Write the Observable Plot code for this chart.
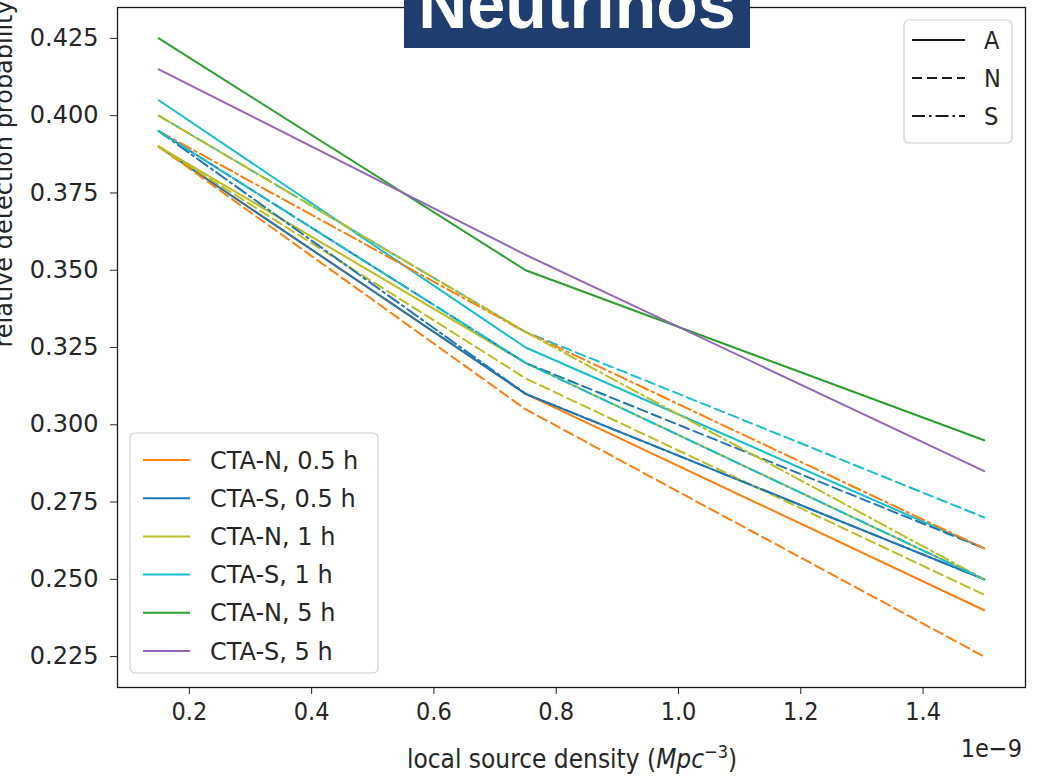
<!DOCTYPE html>
<html><head><meta charset="utf-8">
<script src="https://cdn.jsdelivr.net/npm/d3@7"></script>
<script src="https://cdn.jsdelivr.net/npm/@observablehq/plot@0.6"></script>
<style>
body{margin:0;background:#fff;}
#wrap{position:relative;width:1037px;height:779px;overflow:hidden;}
</style></head><body><div id="wrap"></div>
<script>
// x positions (units of 1e-9 Mpc^-3)
const xs = [0.15, 0.75, 1.5];
const xTicks = [0.2, 0.4, 0.6, 0.8, 1.0, 1.2, 1.4];
const yTicks = [0.225, 0.25, 0.275, 0.3, 0.325, 0.35, 0.375, 0.4, 0.425];
const configs = ["CTA-N, 0.5 h", "CTA-S, 0.5 h", "CTA-N, 1 h", "CTA-S, 1 h", "CTA-N, 5 h", "CTA-S, 5 h"];
const colors = ["#ff7f0e", "#1f77b4", "#bcbd22", "#17becf", "#2ca02c", "#9467bd"];
const styles = ["A", "N", "S"];
const dashes = {A: null, N: "10,5", S: "13,4,2.5,4"};

// series values at xs
const n05_A = [0.390, 0.310, 0.240];
const n05_N = [0.390, 0.305, 0.225];
const n05_S = [0.395, 0.330, 0.260];
const s05_A = [0.390, 0.310, 0.250];
const s05_N = [0.395, 0.320, 0.260];
const s05_S = [0.395, 0.310, 0.250];
const n1_A = [0.390, 0.320, 0.250];
const n1_N = [0.390, 0.315, 0.245];
const n1_S = [0.400, 0.330, 0.250];
const s1_A = [0.405, 0.325, 0.260];
const s1_N = [0.400, 0.330, 0.270];
const s1_S = [0.395, 0.320, 0.250];
const n5_A = [0.425, 0.350, 0.295];
const s5_A = [0.415, 0.355, 0.285];

const series = [
  [configs[0], "A", n05_A], [configs[0], "N", n05_N], [configs[0], "S", n05_S],
  [configs[1], "A", s05_A], [configs[1], "N", s05_N], [configs[1], "S", s05_S],
  [configs[2], "A", n1_A], [configs[2], "N", n1_N], [configs[2], "S", n1_S],
  [configs[3], "A", s1_A], [configs[3], "N", s1_N], [configs[3], "S", s1_S],
  [configs[4], "A", n5_A],
  [configs[5], "A", s5_A]
];
const data = [];
series.forEach(([config, style, vals], i) => {
  vals.forEach((v, j) => data.push({x: xs[j], y: v, config, style, key: i}));
});

const font = "DejaVu Sans, sans-serif";
const fontC = "DejaVu Sans Condensed, DejaVu Sans, sans-serif";

const lineMarks = styles.map(s => Plot.line(data.filter(d => d.style === s), {
  x: "x", y: "y", z: "key", stroke: "config", strokeWidth: 2,
  strokeDasharray: dashes[s] || undefined
}));

const chart = Plot.plot({
  width: 1037, height: 779,
  marginLeft: 117, marginRight: 12, marginTop: 7, marginBottom: 92,
  style: {fontFamily: font, fontSize: "24px", color: "#262626", background: "white"},
  x: {domain: [0.0825, 1.5675]},
  y: {domain: [0.215, 0.435]},
  color: {domain: configs, range: colors},
  marks: [
    ...lineMarks,
    Plot.axisX({ticks: xTicks, tickFormat: d => d.toFixed(1), tickSize: 7, tickPadding: 8, label: null, fontSize: 25, fontFamily: fontC}),
    Plot.axisY({ticks: yTicks, tickFormat: d => d.toFixed(3), tickSize: 7, tickPadding: 12, label: null, fontSize: 24}),
    Plot.frame({stroke: "#1a1a1a", strokeWidth: 1.3}),
    Plot.text(["relative detection probability"], {frameAnchor: "left", rotate: -90, dx: -113, fontSize: 24, fill: "#262626"})
  ]
});
document.getElementById("wrap").appendChild(chart);

const svg = d3.select(chart);
// x label
const xl = svg.append("text").attr("x", 572).attr("y", 768).attr("text-anchor", "middle")
  .attr("font-family", fontC).attr("font-size", 26).attr("fill", "#262626");
xl.append("tspan").text("local source density (");
xl.append("tspan").attr("font-style", "italic").text("Mpc");
xl.append("tspan").attr("font-size", 18).attr("dy", -10).text("−3");
xl.append("tspan").attr("dy", 10).text(")");
// offset text
svg.append("text").attr("x", 1022).attr("y", 757).attr("text-anchor", "end")
  .attr("font-family", fontC).attr("font-size", 25).attr("fill", "#262626").text("1e−9");

// legend for configurations (bottom-left)
const lg = svg.append("g").attr("text-anchor", "start");
lg.append("rect").attr("x", 130).attr("y", 433).attr("width", 248).attr("height", 240).attr("rx", 5)
  .attr("fill", "white").attr("fill-opacity", 0.85).attr("stroke", "#d0d0d0").attr("stroke-width", 1.2);
configs.forEach((c, i) => {
  const y = 460 + i * 38.2;
  lg.append("line").attr("x1", 143).attr("x2", 190).attr("y1", y).attr("y2", y)
    .attr("stroke", colors[i]).attr("stroke-width", 2);
  lg.append("text").attr("x", 210).attr("y", y).attr("dy", "0.36em").attr("text-anchor", "start")
    .attr("font-family", font).attr("font-size", 24).attr("fill", "#262626").text(c);
});

// legend for styles (top-right)
const lg2 = svg.append("g").attr("text-anchor", "start");
lg2.append("rect").attr("x", 904).attr("y", 20).attr("width", 108).attr("height", 123).attr("rx", 5)
  .attr("fill", "white").attr("fill-opacity", 0.85).attr("stroke", "#d0d0d0").attr("stroke-width", 1.2);
styles.forEach((s, i) => {
  const y = 40 + i * 38;
  const ln = lg2.append("line").attr("x1", 912).attr("x2", 965).attr("y1", y).attr("y2", y)
    .attr("stroke", "#1a1a1a").attr("stroke-width", 2);
  if (dashes[s]) ln.attr("stroke-dasharray", dashes[s]);
  lg2.append("text").attr("x", 984).attr("y", y).attr("dy", "0.36em").attr("text-anchor", "start")
    .attr("font-family", fontC).attr("font-size", 25).attr("fill", "#262626").text(s);
});

// banner
svg.append("rect").attr("x", 404).attr("y", 0).attr("width", 346).attr("height", 48).attr("fill", "#1f3d6e");
svg.append("text").attr("x", 577).attr("y", 28).attr("text-anchor", "middle")
  .attr("font-family", "Liberation Sans, Arial, sans-serif").attr("font-weight", "bold")
  .attr("font-size", 68).attr("fill", "white").text("Neutrinos");
</script>
</body></html>
